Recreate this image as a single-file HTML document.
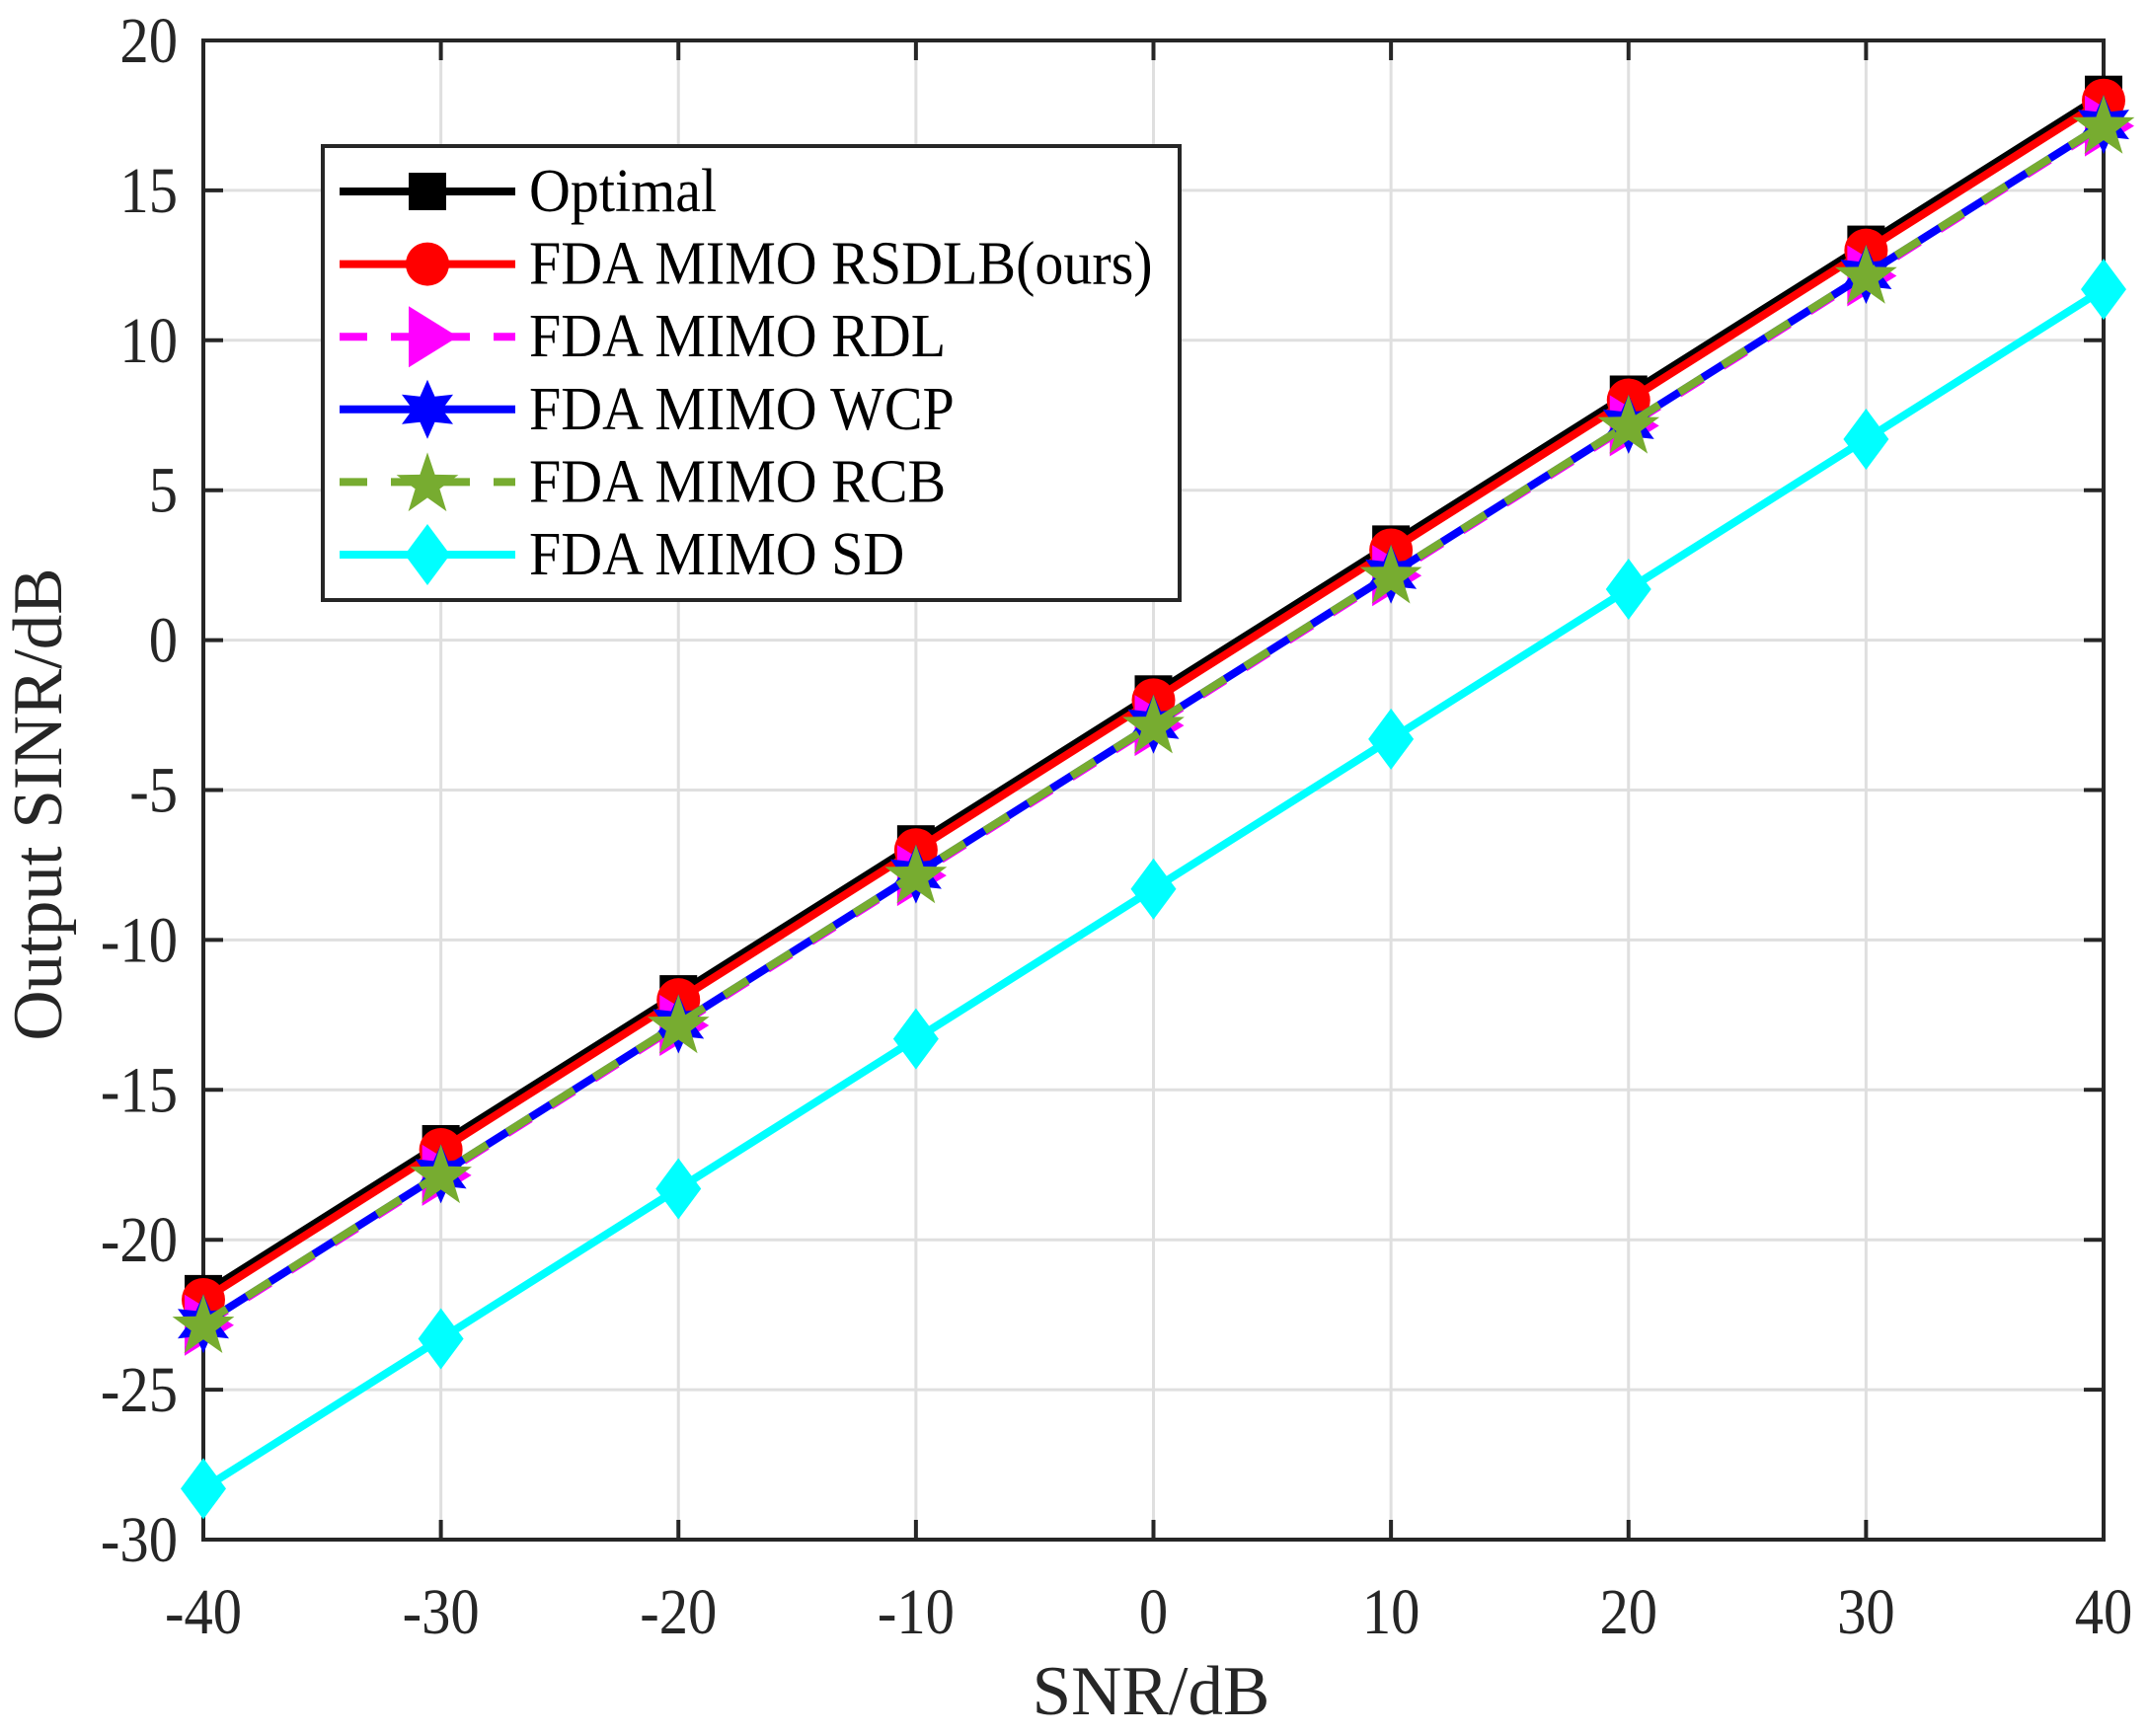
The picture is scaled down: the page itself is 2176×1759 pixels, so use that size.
<!DOCTYPE html>
<html><head><meta charset="utf-8"><style>html,body{margin:0;padding:0;background:#fff}svg{display:block}</style></head>
<body>
<svg id="s" width="2176" height="1759" viewBox="0 0 2176 1759" xmlns="http://www.w3.org/2000/svg" font-family="Liberation Serif, serif" fill="#262626"></svg>
<script>
const L=206,R=2131,T=41,B=1560;
const X=v=>L+(v+40)*(R-L)/80, Y=v=>T+(20-v)*(B-T)/50;
let s='';
for(let v=-30;v<=30;v+=10) s+=`<line x1="${X(v)}" y1="${T}" x2="${X(v)}" y2="${B}" stroke="#dfdfdf" stroke-width="3"/>`;
for(let v=-25;v<=15;v+=5) s+=`<line x1="${L}" y1="${Y(v)}" x2="${R}" y2="${Y(v)}" stroke="#dfdfdf" stroke-width="3"/>`;
for(let v=-40;v<=40;v+=10){s+=`<line x1="${X(v)}" y1="${B}" x2="${X(v)}" y2="${B-20}" stroke="#262626" stroke-width="4"/><line x1="${X(v)}" y1="${T}" x2="${X(v)}" y2="${T+20}" stroke="#262626" stroke-width="4"/>`;
 s+=`<text transform="translate(${X(v)},1655) scale(0.93,1.05)" font-size="63" text-anchor="middle">${v}</text>`;}
for(let v=-30;v<=20;v+=5){s+=`<line x1="${L}" y1="${Y(v)}" x2="${L+20}" y2="${Y(v)}" stroke="#262626" stroke-width="4"/><line x1="${R}" y1="${Y(v)}" x2="${R-20}" y2="${Y(v)}" stroke="#262626" stroke-width="4"/>`;
 s+=`<text transform="translate(180,${Y(v)+22}) scale(0.93,1.05)" font-size="63" text-anchor="end">${v}</text>`;}
s+=`<rect x="${L}" y="${T}" width="${R-L}" height="${B-T}" fill="none" stroke="#262626" stroke-width="4"/>`;
s+=`<text x="1166" y="1737" font-size="71" text-anchor="middle">SNR/dB</text>`;
s+=`<text transform="translate(62,815) rotate(-90)" font-size="71" text-anchor="middle">Output SINR/dB</text>`;
function star(cx,cy,n,ro,ri){let p=[];for(let i=0;i<2*n;i++){const a=-Math.PI/2+i*Math.PI/n,r=i%2?ri:ro;p.push((cx+r*Math.cos(a)).toFixed(1)+','+(cy+r*Math.sin(a)).toFixed(1));}return p.join(' ');}
function mk(t,x,y,c){
 if(t=='sq')return `<rect x="${x-19}" y="${y-19}" width="38" height="38" fill="${c}"/>`;
 if(t=='ci')return `<circle cx="${x}" cy="${y}" r="22" fill="${c}"/>`;
 if(t=='tr')return `<polygon points="${x-19},${y-31} ${x+31},${y} ${x-19},${y+31}" fill="${c}"/>`;
 if(t=='hx')return `<polygon points="${star(x,y,6,30,15)}" fill="${c}"/>`;
 if(t=='pt')return `<polygon points="${star(x,y+3,5,33,13)}" fill="${c}"/>`;
 if(t=='di')return `<polygon points="${x},${y-31} ${x+23},${y} ${x},${y+31} ${x-23},${y}" fill="${c}"/>`;
}
const ser=[['#000','sq',-1.8,''],['#f00','ci',-2,''],['#f0f','tr',-2.85,'28 24'],['#00f','hx',-2.8,''],['#77ac30','pt',-2.8,'28 24'],['#0ff','di',-8.3,'']];
ser.forEach(([c,m,o,d])=>{let pts=[];for(let v=-40;v<=40;v+=10)pts.push([X(v),Y(v/2+o)]);
 s+=`<polyline points="${pts.map(p=>p.join(',')).join(' ')}" fill="none" stroke="${c}" stroke-width="8" ${d?`stroke-dasharray="${d}"`:''}/>`;
 pts.forEach(p=>s+=mk(m,p[0],p[1],c));});
s+=`<rect x="327" y="148" width="868" height="460" fill="#fff" stroke="#262626" stroke-width="4"/>`;
const names=['Optimal','FDA MIMO RSDLB(ours)','FDA MIMO RDL','FDA MIMO WCP','FDA MIMO RCB','FDA MIMO SD'];
ser.forEach(([c,m,o,d],i)=>{const y=194+i*73.6;
 s+=`<line x1="344" y1="${y}" x2="522" y2="${y}" stroke="${c}" stroke-width="8" ${d?`stroke-dasharray="${d}"`:''}/>`+mk(m,433,y,c);
 s+=`<text transform="translate(536,${y+20}) scale(1,1.08)" font-size="58" fill="#000">${names[i]}</text>`;});
document.getElementById('s').innerHTML=s;
</script>
</body></html>
